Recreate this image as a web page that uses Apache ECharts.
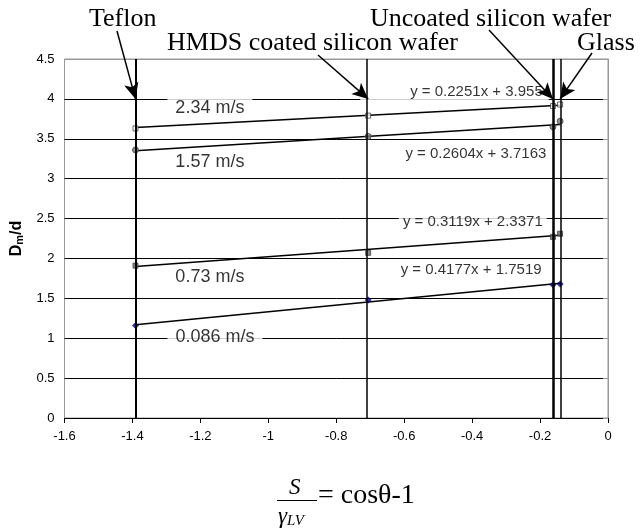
<!DOCTYPE html>
<html><head><meta charset="utf-8">
<script src="https://cdn.jsdelivr.net/npm/echarts@6/dist/echarts.min.js"></script>
<style>html,body{margin:0;padding:0;background:#fff}#c{width:643px;height:532px}</style>
</head><body><div id="c"></div>
<script>
// ---- data ----
const surfaceNames = ['Teflon', 'HMDS coated silicon wafer', 'Uncoated silicon wafer', 'Glass'];
const surfaceX = [-1.391, -0.706, -0.162, -0.141];      // S/γLV of each surface
const speedLabels = ['2.34 m/s', '1.57 m/s', '0.73 m/s', '0.086 m/s'];
const d234 = [3.63, 3.79, 3.91, 3.93];
const d157 = [3.36, 3.53, 3.65, 3.72];
const d073 = [1.91, 2.07, 2.27, 2.31];
const d0086 = [1.16, 1.48, 1.67, 1.68];
const trendX = [-1.391, -0.141];
const trend234 = [3.64, 3.92];
const trend157 = [3.35, 3.68];
const trend073 = [1.90, 2.29];
const trend0086 = [1.17, 1.69];
const equations = ['y = 0.2251x + 3.955', 'y = 0.2604x + 3.7163', 'y = 0.3119x + 2.3371', 'y = 0.4177x + 1.7519'];
const xMin = -1.6, xMax = 0, xStep = 0.2;
const yMin = 0, yMax = 4.5, yStep = 0.5;

function pts(xs, ys) { return xs.map((x, i) => [x, ys[i]]); }

// annotation anchors (layout, in data units)
const layout = {
  speedAt: [[-1.172, 3.885], [-1.172, 3.21], [-1.172, 1.77], [-1.157, 1.015]],
  eqAt: [[-0.452, 4.085], [-0.389, 3.31], [-0.398, 2.46], [-0.403, 1.855]],
  eqPad: [[2, 6, 2, 50], [2, 4, 2, 4], [2, 4, 2, 4], [2, 4, 2, 4]],
  arrowFrom: [[117, 31], [318, 55], [489, 30], [592, 53]],
  arrowTipY: 4.0
};

const chart = echarts.init(document.getElementById('c'), null, {renderer: 'canvas'});
const sans = 'Liberation Sans, Arial, sans-serif';
const serif = 'Liberation Serif, Times New Roman, serif';

const trendStyle = {color: '#000', width: 1.5};
const series = [
  {type: 'line', data: pts(trendX, trend234), symbol: 'none', lineStyle: trendStyle, z: 3, silent: true},
  {type: 'line', data: pts(trendX, trend157), symbol: 'none', lineStyle: trendStyle, z: 3, silent: true},
  {type: 'line', data: pts(trendX, trend073), symbol: 'none', lineStyle: trendStyle, z: 3, silent: true},
  {type: 'line', data: pts(trendX, trend0086), symbol: 'none', lineStyle: trendStyle, z: 3, silent: true},
  {type: 'scatter', data: pts(surfaceX, d234), symbol: 'rect', symbolSize: 5,
    itemStyle: {color: '#fff', borderColor: '#444', borderWidth: 1}, z: 4},
  {type: 'scatter', data: pts(surfaceX, d157), symbol: 'circle', symbolSize: 6,
    itemStyle: {color: '#777', borderColor: '#444', borderWidth: 1}, z: 4},
  {type: 'scatter', data: pts(surfaceX, d073), symbol: 'rect', symbolSize: 5,
    itemStyle: {color: '#666', borderColor: '#444', borderWidth: 1}, z: 4},
  {type: 'scatter', data: pts(surfaceX, d0086), symbol: 'diamond', symbolSize: 7,
    itemStyle: {color: '#000080'}, z: 4},
  {type: 'line', data: [], silent: true, z: 5,
    markLine: {
      silent: true, symbol: ['none', 'none'], animation: false,
      label: {show: false},
      data: surfaceX.map((x, i) => ({xAxis: x, lineStyle: {width: [2, 1.5, 2.5, 1.5][i], color: '#000', type: 'solid'}}))
    }},
  {type: 'line', data: [], silent: true, z: 6,
    markLine: {
      silent: true, symbol: ['none', 'arrow'], symbolSize: [11, 16], animation: false,
      label: {show: false},
      lineStyle: {color: '#000', type: 'solid', width: 1.5},
      data: surfaceX.map((x, i) => [{x: layout.arrowFrom[i][0], y: layout.arrowFrom[i][1]}, {coord: [x, layout.arrowTipY]}])
    }},
  {type: 'scatter', symbolSize: 0, silent: true, z: 2,
    data: speedLabels.map((t, i) => ({name: t, value: layout.speedAt[i]})),
    label: {show: true, position: 'inside', formatter: '{b}', color: '#000',
      fontFamily: sans, fontSize: 18, backgroundColor: '#fff', padding: [3, 8]}},
  {type: 'scatter', symbolSize: 0, silent: true, z: 2,
    data: equations.map((t, i) => ({name: t, value: layout.eqAt[i],
      label: {padding: layout.eqPad[i]}})),
    label: {show: true, position: 'inside', formatter: '{b}', color: '#000',
      fontFamily: sans, fontSize: 15, backgroundColor: '#fff'}}
];

const splitColors = [];
for (let v = yMin; v <= yMax + 1e-9; v += yStep) splitColors.push(v >= yMax - 1e-9 ? '#999' : '#000');

chart.setOption({
  animation: false,
  backgroundColor: '#fff',
  grid: {left: 64.5, right: 35, top: 59, bottom: 114, show: true, borderColor: '#999', borderWidth: 1},
  xAxis: {
    type: 'value', min: xMin, max: xMax, interval: xStep,
    axisLine: {show: true, lineStyle: {color: '#000', width: 1}},
    axisTick: {show: true, inside: false, length: 5, lineStyle: {color: '#000'}},
    axisLabel: {color: '#000', fontSize: 13, fontFamily: sans, margin: 12,
      formatter: v => String(Math.round(v * 10) / 10)},
    splitLine: {show: false}
  },
  yAxis: {
    type: 'value', min: yMin, max: yMax, interval: yStep,
    axisLine: {show: true, lineStyle: {color: '#999', width: 1}},
    axisTick: {show: true, inside: false, length: 5, lineStyle: {color: '#999'}},
    axisLabel: {color: '#000', fontSize: 13, fontFamily: sans, margin: 10},
    splitLine: {show: true, lineStyle: {color: splitColors, width: 1}},
    name: '{a|D}{s|m}{a|/d}', nameLocation: 'middle', nameRotate: 90, nameGap: 38,
    nameTextStyle: {rich: {
      a: {fontSize: 16, fontWeight: 'bold', color: '#000', fontFamily: sans},
      s: {fontSize: 11, fontWeight: 'bold', color: '#000', fontFamily: sans, padding: [7, 0, 0, 0]}
    }}
  },
  graphic: [
    {type: 'text', left: 89, top: 6, style: {text: surfaceNames[0], font: '26px ' + serif, fill: '#000'}},
    {type: 'text', left: 167, top: 30, style: {text: surfaceNames[1], font: '26px ' + serif, fill: '#000'}},
    {type: 'text', left: 370, top: 6, style: {text: surfaceNames[2], font: '26px ' + serif, fill: '#000'}},
    {type: 'text', left: 577, top: 30, style: {text: surfaceNames[3], font: '26px ' + serif, fill: '#000'}},
    {type: 'text', left: 289, top: 476, style: {text: 'S', font: 'italic 23px ' + serif, fill: '#000'}},
    {type: 'line', shape: {x1: 277, y1: 500.5, x2: 317, y2: 500.5}, style: {stroke: '#000', lineWidth: 1}},
    {type: 'text', left: 278, top: 505, style: {text: '{g|γ}{s|LV}', fill: '#000',
      rich: {g: {font: 'italic 23px ' + serif}, s: {font: 'italic 15px ' + serif, padding: [9, 0, 0, 0]}}}},
    {type: 'text', left: 318, top: 482, style: {text: '= cosθ-1', font: '28px ' + serif, fill: '#000'}}
  ],
  series: series
});
</script>
</body></html>
